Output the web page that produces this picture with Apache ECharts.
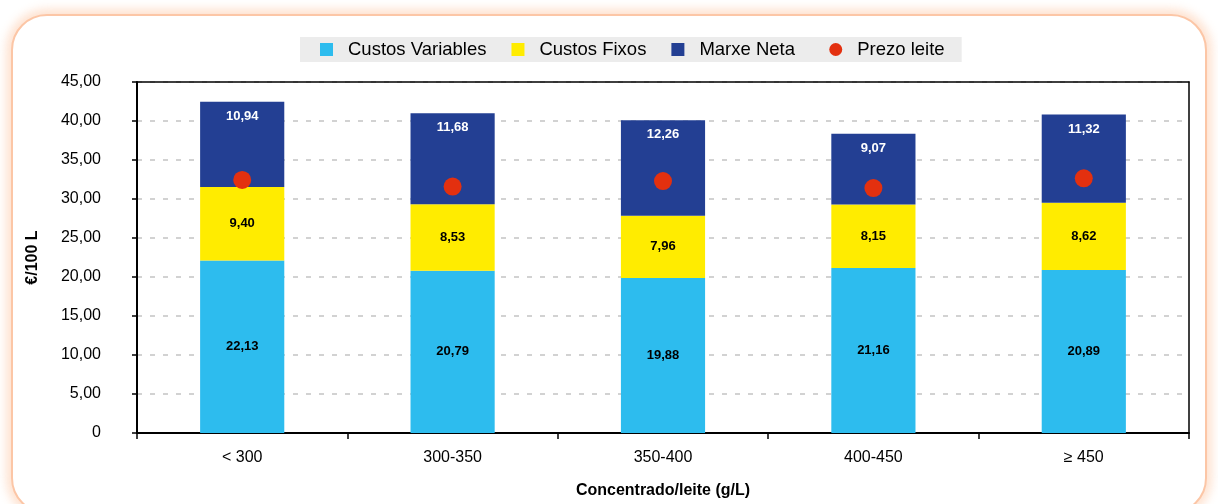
<!DOCTYPE html>
<html>
<head>
<meta charset="utf-8">
<script src="https://cdn.jsdelivr.net/npm/echarts@6/dist/echarts.min.js"></script>
<style>
  html, body { margin: 0; padding: 0; background: #fff; overflow: hidden; }
  #wrap { position: relative; width: 1218px; height: 504px; overflow: hidden; }
  #frame { position: absolute; left: 11px; top: 14px; width: 1196px; height: 500px;
    border: 2px solid #fcc6a6; border-radius: 36px; box-sizing: border-box;
    box-shadow: 0 0 10px 5px rgba(252, 190, 150, 0.45); background: #fff; }
  #chart { position: absolute; left: 0; top: 0; width: 1218px; height: 504px; }
</style>
</head>
<body>
<div id="wrap">
  <div id="frame"></div>
  <div id="chart"></div>
</div>
<script>
const categories = ['< 300', '300-350', '350-400', '400-450', '≥ 450'];
const custosVariables = [22.13, 20.79, 19.88, 21.16, 20.89];
const custosFixos = [9.40, 8.53, 7.96, 8.15, 8.62];
const marxeNeta = [10.94, 11.68, 12.26, 9.07, 11.32];
const prezoLeite = [32.45, 31.6, 32.3, 31.4, 32.65];
const yTicks = { min: 0, max: 45, interval: 5 };

const FONT = 'Liberation Sans, Arial, sans-serif';
const fmt = v => (v === 0 ? '0' : v.toFixed(2).replace('.', ','));

const chart = echarts.init(document.getElementById('chart'), null, { renderer: 'canvas' });

const barLabel = (color, position, distance) => ({
  show: true, position: position, distance: distance || 5,
  color: color, fontFamily: FONT, fontWeight: 'bold', fontSize: 13,
  formatter: p => fmt(p.value)
});

chart.setOption({
  animation: false,
  backgroundColor: 'transparent',
  textStyle: { fontFamily: FONT },
  legend: {
    left: 300, top: 37,
    padding: [3, 17, 3, 20],
    backgroundColor: '#ececec',
    itemWidth: 13, itemHeight: 13, itemGap: 25,
    textStyle: { fontFamily: FONT, fontSize: 18.5, color: '#000', padding: [0, 0, 0, 10] },
    formatter: name => (name === 'Marxe Neta' ? name + '\u2002' : name),
    data: [
      { name: 'Custos Variables', icon: 'rect' },
      { name: 'Custos Fixos', icon: 'rect' },
      { name: 'Marxe Neta', icon: 'rect' },
      { name: 'Prezo leite', icon: 'circle' }
    ]
  },
  grid: { left: 137, right: 29, top: 82, bottom: 71 },
  xAxis: [{
    type: 'category', data: categories,
    name: 'Concentrado/leite (g/L)', nameLocation: 'middle', nameGap: 50,
    nameTextStyle: { fontFamily: FONT, fontWeight: 'bold', fontSize: 16, color: '#000' },
    axisLine: { lineStyle: { color: '#000', width: 2 } },
    axisTick: { show: true, length: 6, lineStyle: { color: '#000', width: 1.5 } },
    axisLabel: { fontFamily: FONT, fontSize: 16, color: '#000', margin: 17 }
  }, {
    type: 'category', data: categories, position: 'top', z: 10,
    axisLine: { show: true, onZero: false, lineStyle: { color: '#000', width: 1.5 } },
    axisTick: { show: false }, axisLabel: { show: false }, splitLine: { show: false }
  }],
  yAxis: [{
    type: 'value', min: yTicks.min, max: yTicks.max, interval: yTicks.interval,
    name: '€/100 L', nameLocation: 'middle', nameGap: 96, nameRotate: 90,
    nameTextStyle: { fontFamily: FONT, fontWeight: 'bold', fontSize: 16, color: '#000' },
    axisLine: { show: true, lineStyle: { color: '#000', width: 2 } },
    axisTick: { show: true, length: 5, lineStyle: { color: '#000', width: 1.5 } },
    axisLabel: { fontFamily: FONT, fontSize: 16, color: '#000', margin: 36, formatter: v => fmt(v) },
    splitLine: { show: true, lineStyle: { color: '#c4c4c4', type: [5, 8], width: 1.5 } }
  }, {
    type: 'value', min: yTicks.min, max: yTicks.max, interval: yTicks.interval, position: 'right', z: 10,
    axisLine: { show: true, onZero: false, lineStyle: { color: '#000', width: 1.5 } },
    axisTick: { show: false }, axisLabel: { show: false }, splitLine: { show: false }
  }],
  series: [
    { name: 'Custos Variables', type: 'bar', stack: 'total', barWidth: '40%',
      itemStyle: { color: '#2dbcee' }, label: barLabel('#000', 'inside'), data: custosVariables },
    { name: 'Custos Fixos', type: 'bar', stack: 'total', barWidth: '40%',
      itemStyle: { color: '#ffec00' }, label: barLabel('#000', 'inside'), data: custosFixos },
    { name: 'Marxe Neta', type: 'bar', stack: 'total', barWidth: '40%',
      itemStyle: { color: '#233f93' }, label: barLabel('#fff', 'insideTop', 8), data: marxeNeta },
    { name: 'Prezo leite', type: 'scatter', symbol: 'circle', symbolSize: 18, z: 5,
      itemStyle: { color: '#e3300f', opacity: 1 }, data: prezoLeite }
  ]
});
</script>
</body>
</html>
